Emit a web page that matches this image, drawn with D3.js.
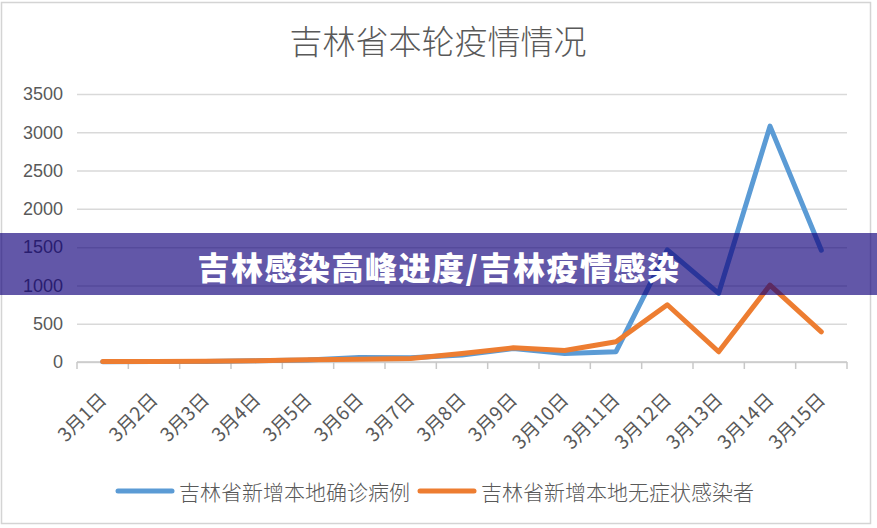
<!DOCTYPE html>
<html>
<head>
<meta charset="utf-8">
<script src="https://cdn.jsdelivr.net/npm/d3@7"></script>
<style>
  html, body { margin: 0; padding: 0; background: #ffffff; }
  svg { display: block; }
</style>
</head>
<body>
<div id="chart"><svg></svg></div>
<script>
// values
var dates = ["3月1日", "3月2日", "3月3日", "3月4日", "3月5日", "3月6日", "3月7日", "3月8日",
             "3月9日", "3月10日", "3月11日", "3月12日", "3月13日", "3月14日", "3月15日"];
var confirmed = [3, 5, 8, 15, 25, 60, 55, 90, 175, 110, 134, 1465, 897, 3080, 1460];
var asymptomatic = [5, 8, 10, 15, 28, 35, 45, 110, 185, 150, 265, 748, 134, 1005, 394];
var yTicks = [0, 500, 1000, 1500, 2000, 2500, 3000, 3500];
var seriesNames = ["吉林省新增本地确诊病例", "吉林省新增本地无症状感染者"];
var seriesColors = ["#5b9bd5", "#ed7d31"];

var title = "吉林省本轮疫情情况";
var banner = "吉林感染高峰进度/吉林疫情感染";

var width = 877, height = 528;
var margin = { top: 94, right: 30, bottom: 166, left: 77 };
var cjk = '"Noto Sans CJK SC", "Noto Sans", sans-serif';

var svg = d3.select("#chart svg").attr("width", width).attr("height", height);

// chart frame
svg.append("rect")
    .attr("x", 1.5).attr("y", 2.5)
    .attr("width", 869).attr("height", 521)
    .style("fill", "#ffffff")
    .style("stroke", "#d4d4d4")
    .style("stroke-width", 1.5);

var x = d3.scaleBand()
    .domain(dates)
    .range([margin.left, width - margin.right]);

var y = d3.scaleLinear()
    .domain([0, 3500])
    .range([height - margin.bottom, margin.top]);

// title
svg.append("text")
    .attr("x", 438).attr("y", 40)
    .attr("text-anchor", "middle")
    .attr("dominant-baseline", "central")
    .style("font-family", cjk)
    .style("font-weight", 300)
    .style("font-size", "33px")
    .style("fill", "#595959")
    .text(title);

// gridlines + y labels
var yAxis = svg.append("g")
    .attr("class", "y-axis")
    .attr("transform", "translate(" + margin.left + ",0)")
    .call(d3.axisLeft(y).tickValues(yTicks).tickFormat(d3.format("d"))
        .tickSize(-(width - margin.left - margin.right)).tickPadding(14));

yAxis.select(".domain").remove();
yAxis.selectAll(".tick line")
    .style("stroke", "#d9d9d9")
    .style("stroke-width", 1.5);
yAxis.selectAll(".tick text")
    .style("font-family", '"Liberation Sans", Arial, sans-serif')
    .style("font-size", "18px")
    .style("fill", "#595959");

// category axis: ticks sit between categories
var xAxis = svg.append("g").attr("class", "x-axis");
xAxis.append("line")
    .attr("x1", margin.left).attr("x2", width - margin.right)
    .attr("y1", y(0)).attr("y2", y(0))
    .style("stroke", "#c8c8c8")
    .style("stroke-width", 1.5);

var bounds = dates.map(function(d) { return x(d); }).concat([x(dates[dates.length - 1]) + x.bandwidth()]);
xAxis.selectAll(".tk")
    .data(bounds)
    .enter().append("line")
    .attr("class", "tk")
    .attr("x1", function(d) { return d; }).attr("x2", function(d) { return d; })
    .attr("y1", y(0)).attr("y2", y(0) + 7)
    .style("stroke", "#c8c8c8")
    .style("stroke-width", 1.5);

xAxis.selectAll(".lbl")
    .data(dates)
    .enter().append("text")
    .attr("class", "lbl")
    .attr("transform", function(d) {
        var cx = x(d) + x.bandwidth() / 2 + 5;
        return "translate(" + cx + "," + (y(0) + 39) + ") rotate(-45)";
    })
    .attr("text-anchor", "end")
    .style("font-family", cjk)
    .style("font-size", "19px")
    .style("fill", "#595959")
    .text(function(d) { return d; });

// lines
var line = d3.line()
    .x(function(d, i) { return x(dates[i]) + x.bandwidth() / 2; })
    .y(function(d) { return y(d); });

[confirmed, asymptomatic].forEach(function(series, k) {
    svg.append("path")
        .datum(series)
        .attr("d", line)
        .style("fill", "none")
        .style("stroke", seriesColors[k])
        .style("stroke-width", 5)
        .style("stroke-linejoin", "round")
        .style("stroke-linecap", "round");
});

// legend, centred under the plot
var legend = svg.append("g").attr("class", "legend");
var lx = 0;
seriesNames.forEach(function(name, k) {
    var item = legend.append("g").attr("transform", "translate(" + lx + ",0)");
    item.append("line")
        .attr("x1", 0).attr("x2", 54)
        .attr("y1", 0).attr("y2", 0)
        .style("stroke", seriesColors[k])
        .style("stroke-width", 5)
        .style("stroke-linecap", "round");
    var t = item.append("text")
        .attr("x", 61).attr("y", 0)
        .attr("dominant-baseline", "central")
        .style("font-family", cjk)
        .style("font-weight", 300)
        .style("font-size", "21px")
        .style("fill", "#595959")
        .text(name);
    lx += 61 + t.node().getComputedTextLength() + 10;
});
legend.attr("transform", "translate(" + (436 - (lx - 10) / 2) + ",491)");

// overlay banner across the chart
svg.append("rect")
    .attr("x", 0).attr("y", 233)
    .attr("width", width).attr("height", 62)
    .style("fill", "rgb(16,0,123)")
    .style("fill-opacity", 0.66);

svg.append("text")
    .attr("x", 439).attr("y", 266)
    .attr("text-anchor", "middle")
    .attr("dominant-baseline", "central")
    .style("font-family", cjk)
    .style("font-weight", 900)
    .style("font-size", "32px")
    .style("letter-spacing", "1.5px")
    .style("fill", "#ffffff")
    .text(banner);
</script>
</body>
</html>
